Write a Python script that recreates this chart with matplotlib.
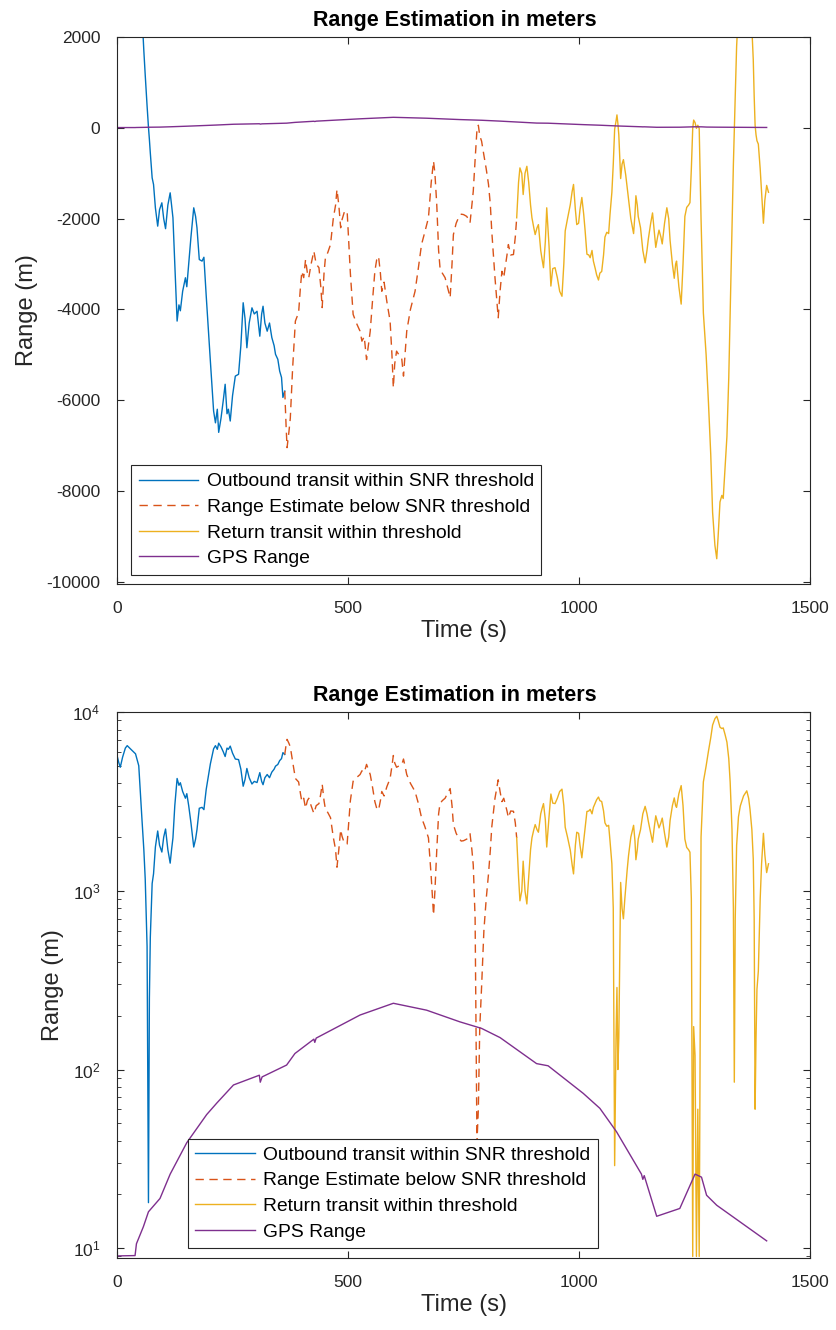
import numpy as np
import matplotlib
matplotlib.use('Agg')
import matplotlib.pyplot as plt

plt.rcParams['font.family'] = ['Liberation Sans', 'DejaVu Sans']
plt.rcParams['axes.unicode_minus'] = False
plt.rcParams['mathtext.fontset'] = 'custom'
plt.rcParams['mathtext.rm'] = 'Liberation Sans'

# outbound transit within SNR threshold (signed range estimate, m)
t_out = [0, 4, 7, 12, 18, 22, 30, 40, 47, 54, 58, 61, 65, 68, 70, 72, 76, 79, 83, 88,
         92, 97, 101, 105, 110, 115, 118, 121, 125, 130, 134, 137, 142, 148, 151, 155,
         160, 166, 170, 173, 178, 184, 188, 193, 202, 209, 213, 217, 220, 225, 230, 234,
         238, 241, 245, 250, 256, 263, 268, 273, 277, 281, 286, 292, 297, 303, 309, 313,
         316, 320, 325, 330, 335, 340, 343, 348, 352, 356, 359, 363]
r_out = [5720, 5200, 4920, 5600, 6300, 6500, 6200, 5850, 5020, 2500, 1700, 1165, 490, 18,
         -250, -549, -1100, -1246, -1760, -2164, -1800, -1650, -2000, -2220, -1700, -1430,
         -1700, -1980, -3000, -4257, -3900, -4030, -3600, -3302, -3500, -3010, -2400, -1760,
         -1950, -2200, -2900, -2935, -2850, -3700, -5140, -6240, -6500, -6200, -6710, -6400,
         -6000, -5650, -6300, -6200, -6460, -5900, -5470, -5430, -4800, -3853, -4200, -4845,
         -4300, -3965, -4100, -4040, -4590, -4100, -3930, -4300, -4480, -4300, -4620, -4800,
         -4990, -5100, -5360, -5500, -5940, -5800]

# estimate below SNR threshold
t_below = [363, 366, 368, 372, 375, 380, 386, 390, 393, 397, 400, 404, 408, 412, 415, 420,
           426, 431, 437, 441, 444, 448, 451, 456, 462, 468, 473, 476, 480, 484, 487, 492,
           498, 505, 511, 518, 526, 530, 535, 540, 548, 553, 558, 562, 566, 570, 573, 578,
           584, 591, 595, 598, 601, 605, 610, 616, 620, 624, 627, 635, 645, 652, 659, 666,
           674, 680, 685, 688, 692, 696, 699, 704, 710, 715, 721, 725, 728, 734, 739, 745,
           750, 757, 764, 768, 771, 775, 779, 782, 785, 789, 794, 799, 804, 808, 811, 818,
           825, 829, 833, 837, 840, 844, 847, 852, 858, 862, 865]
r_below = [-5800, -6600, -7047, -6700, -6400, -5300, -4257, -4150, -4070, -3500, -3160,
           -3300, -2900, -3200, -3300, -3000, -2715, -3000, -3080, -3500, -3960, -3200,
           -2860, -2750, -2570, -2000, -1700, -1357, -1700, -2200, -2020, -1850, -1830,
           -3200, -4110, -4300, -4480, -4700, -4600, -5105, -4480, -3800, -3160, -2900,
           -2830, -3200, -3600, -3400, -3830, -4257, -5000, -5725, -5200, -4920, -5000,
           -5065, -5470, -4900, -4480, -4000, -3600, -3100, -2570, -2300, -1980, -1200,
           -732, -1000, -1690, -2700, -3080, -3200, -3300, -3500, -3740, -3000, -2350,
           -2100, -1980, -1900, -1910, -1950, -2090, -1700, -1395, -700, -39, 60, -170,
           -290, -600, -900, -1245, -1700, -2270, -3300, -4185, -3600, -3160, -3300, -3080,
           -2800, -2570, -2800, -2790, -2400, -1980]

# return transit within threshold
t_ret = [865, 869, 872, 876, 879, 883, 887, 891, 895, 898, 902, 905, 909, 912, 917, 920,
         923, 927, 930, 935, 939, 943, 948, 953, 958, 963, 967, 970, 975, 981, 985, 988,
         992, 995, 999, 1002, 1006, 1010, 1013, 1017, 1021, 1024, 1028, 1031, 1035, 1038,
         1042, 1045, 1049, 1053, 1056, 1060, 1064, 1067, 1071, 1074, 1077, 1080, 1082,
         1084, 1086, 1090, 1093, 1096, 1099, 1101, 1104, 1107, 1112, 1118, 1121, 1123,
         1126, 1128, 1133, 1138, 1143, 1147, 1150, 1155, 1159, 1163, 1166, 1170, 1173,
         1177, 1180, 1185, 1190, 1194, 1197, 1202, 1206, 1209, 1211, 1216, 1221, 1225,
         1229, 1233, 1237, 1240, 1243, 1246, 1248, 1251, 1254, 1257, 1260, 1264, 1269,
         1275, 1280, 1285, 1289, 1294, 1298, 1301, 1305, 1309, 1312, 1316, 1320, 1324,
         1327, 1331, 1334, 1336, 1338, 1341, 1345, 1349, 1356, 1363, 1367, 1370, 1374,
         1377, 1379, 1381, 1383, 1385, 1388, 1392, 1395, 1399, 1402, 1406, 1410]
r_ret = [-1980, -1200, -880, -1000, -1467, -1000, -845, -1200, -1700, -1980, -2200, -2350,
         -2200, -2130, -2700, -2900, -3080, -2500, -1760, -2600, -3485, -3100, -3080,
         -3300, -3600, -3710, -3000, -2270, -2000, -1690, -1400, -1245, -1800, -2130,
         -2100, -1800, -1532, -1900, -2252, -2783, -2800, -2860, -2700, -2935, -3100,
         -3238, -3352, -3200, -3163, -2800, -2404, -2300, -2328, -1900, -1418, -800, -29,
         150, 288, 100, -150, -1115, -800, -698, -900, -1039, -1300, -1570, -2000, -2328,
         -1900, -1494, -1700, -1949, -2200, -2700, -2973, -2700, -2442, -2100, -1873,
         -2300, -2632, -2400, -2252, -2400, -2556, -2100, -1759, -2000, -2480, -3000,
         -3314, -3000, -2935, -3500, -3883, -3000, -1949, -1750, -1700, -1646, -900, -9,
         174, 120, -9, 60, -9, -2000, -4073, -5000, -6045, -7200, -8472, -9200, -9496,
         -9000, -8245, -8100, -8168, -7500, -6803, -5500, -4073, -2200, -800, -85, 700,
         1800, 2600, 2990, 3400, 3630, 3300, 2860, 2200, 1510, 700, 60, -150, -281, -356,
         -900, -1418, -2100, -1600, -1266, -1418]

# GPS range
t_gps = [0, 39, 42, 57, 68, 93, 115, 151, 194, 216, 252, 308, 310, 314, 367, 385, 426,
         428, 431, 526, 598, 670, 742, 789, 829, 908, 933, 1009, 1045, 1081, 1135, 1138,
         1141, 1168, 1218, 1251, 1265, 1276, 1298, 1406]
r_gps = [9.06, 9.1, 10.6, 13.2, 16, 19, 26, 39, 56, 65, 82, 93, 85, 91, 106, 123, 148,
         142, 150, 202, 235, 215, 185, 170, 151, 108, 105, 73.6, 60.7, 44.9, 26, 24.3,
         25.5, 15.1, 16.7, 26, 25, 19.8, 17.4, 11]

labels = ['Outbound transit within SNR threshold', 'Range Estimate below SNR threshold',
          'Return transit within threshold', 'GPS Range']
colors = ['#0072BD', '#D95319', '#EDB120', '#7E2F8E']
axcol = '#262626'

fig = plt.figure(figsize=(8.36, 13.3), dpi=100)
ax1 = fig.add_axes([0.140, 0.561, 0.829, 0.411])
ax2 = fig.add_axes([0.140, 0.054, 0.829, 0.4105])


def draw(ax, f):
    ax.plot(t_out, f(r_out), color=colors[0], lw=1.0, label=labels[0])
    ax.plot(t_below, f(r_below), color=colors[1], lw=1.0, ls=(0, (6, 4)), label=labels[1])
    ax.plot(t_ret, f(r_ret), color=colors[2], lw=1.0, label=labels[2])
    ax.plot(t_gps, r_gps, color=colors[3], lw=1.0, label=labels[3])


draw(ax1, np.array)
draw(ax2, lambda v: np.abs(np.array(v)))

ax2.set_yscale('log')
ax1.set_ylim(-10050, 2000)
ax1.set_yticks(np.arange(-10000, 2001, 2000))
ax2.set_ylim(8.8, 1e4)

for ax in (ax1, ax2):
    ax.set_xlim(0, 1500)
    ax.set_xticks([0, 500, 1000, 1500])
    ax.set_title('Range Estimation in meters', fontsize=15.5, fontweight='bold', pad=8,
                 x=0.487)
    ax.set_xlabel('Time (s)', fontsize=17, color=axcol, labelpad=3)
    ax.set_ylabel('Range (m)', fontsize=17, color=axcol, labelpad=6)
    ax.tick_params(which='both', direction='in', top=True, right=True,
                   labelsize=12.5, colors=axcol, length=5, pad=12)
    ax.tick_params(which='minor', length=3)
    for s in ax.spines.values():
        s.set_color(axcol)
        s.set_linewidth(0.8)

leg_kw = dict(loc='lower left', fontsize=13.9, fancybox=False, framealpha=1,
              edgecolor=axcol, handlelength=3.1, borderpad=0.4, labelspacing=0.42,
              handletextpad=0.42, borderaxespad=0)
l1 = ax1.legend(bbox_to_anchor=(0.020, 0.0165), **leg_kw)
l2 = ax2.legend(bbox_to_anchor=(0.102, 0.018), **leg_kw)
for lg in (l1, l2):
    lg.get_frame().set_linewidth(0.8)

fig.savefig('out.png', dpi=100)
